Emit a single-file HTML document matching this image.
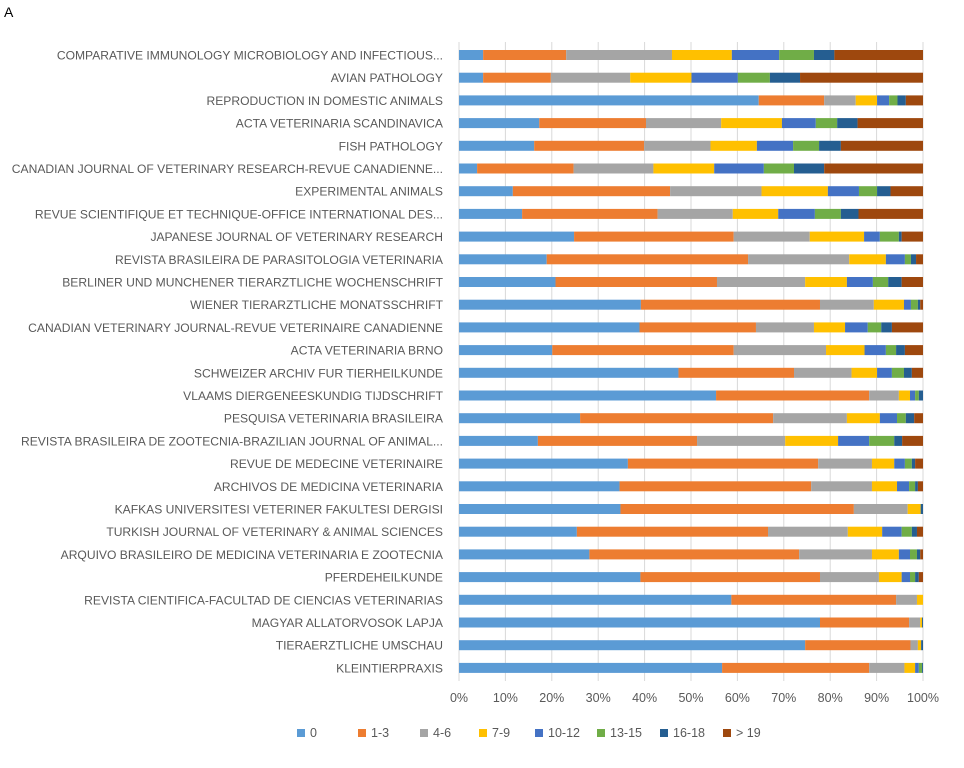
<!DOCTYPE html>
<html><head><meta charset="utf-8"><style>
body{margin:0;background:#fff;width:964px;height:763px;overflow:hidden;font-family:"Liberation Sans",sans-serif}
svg text{font-family:"Liberation Sans",sans-serif}
</style></head><body>
<svg id="c" width="964" height="763" xmlns="http://www.w3.org/2000/svg">
<text x="4" y="17" font-size="14" fill="#000">A</text>
<g id="grid"></g><g id="bars"></g><g id="labels"></g><g id="ticks"></g><g id="legend"></g>
</svg>
<script>
const journals=["COMPARATIVE IMMUNOLOGY MICROBIOLOGY AND INFECTIOUS...","AVIAN PATHOLOGY","REPRODUCTION IN DOMESTIC ANIMALS","ACTA VETERINARIA SCANDINAVICA","FISH PATHOLOGY","CANADIAN JOURNAL OF VETERINARY RESEARCH-REVUE CANADIENNE...","EXPERIMENTAL ANIMALS","REVUE SCIENTIFIQUE ET TECHNIQUE-OFFICE INTERNATIONAL DES...","JAPANESE JOURNAL OF VETERINARY RESEARCH","REVISTA BRASILEIRA DE PARASITOLOGIA VETERINARIA","BERLINER UND MUNCHENER TIERARZTLICHE WOCHENSCHRIFT","WIENER TIERARZTLICHE MONATSSCHRIFT","CANADIAN VETERINARY JOURNAL-REVUE VETERINAIRE CANADIENNE","ACTA VETERINARIA BRNO","SCHWEIZER ARCHIV FUR TIERHEILKUNDE","VLAAMS DIERGENEESKUNDIG TIJDSCHRIFT","PESQUISA VETERINARIA BRASILEIRA","REVISTA BRASILEIRA DE ZOOTECNIA-BRAZILIAN JOURNAL OF ANIMAL...","REVUE DE MEDECINE VETERINAIRE","ARCHIVOS DE MEDICINA VETERINARIA","KAFKAS UNIVERSITESI VETERINER FAKULTESI DERGISI","TURKISH JOURNAL OF VETERINARY & ANIMAL SCIENCES","ARQUIVO BRASILEIRO DE MEDICINA VETERINARIA E ZOOTECNIA","PFERDEHEILKUNDE","REVISTA CIENTIFICA-FACULTAD DE CIENCIAS VETERINARIAS","MAGYAR ALLATORVOSOK LAPJA","TIERAERZTLICHE UMSCHAU","KLEINTIERPRAXIS"];
const seriesNames=["0","1-3","4-6","7-9","10-12","13-15","16-18","> 19"];
const s0=[5.2,5.2,64.6,17.3,16.2,3.9,11.6,13.6,24.8,18.9,20.8,39.2,38.9,20.1,47.3,55.4,26.1,17,36.4,34.6,34.8,25.4,28.1,39.1,58.7,77.8,74.6,56.7];
const s1=[17.9,14.6,14.1,23,23.7,20.8,33.9,29.2,34.4,43.4,34.8,38.6,25.1,39.1,24.9,33,41.6,34.3,41,41.3,50.3,41.2,45.2,38.7,35.5,19.2,22.7,31.7];
const s2=[22.8,17.1,6.8,16.2,14.3,17.2,19.7,16.2,16.4,21.8,19,11.6,12.5,19.9,12.4,6.4,15.9,19,11.6,13.1,11.6,17.2,15.7,12.7,4.5,2.4,1.6,7.6];
const s3=[12.9,13.2,4.6,13.1,10,13.1,14.3,9.8,11.7,7.9,9,6.5,6.7,8.3,5.5,2.4,7.1,11.4,4.8,5.4,2.8,7.4,5.8,4.9,1.3,0.4,0.7,2.3];
const s4=[10.2,10,2.6,7.3,7.8,10.7,6.7,7.9,3.4,4.1,5.6,1.5,4.9,4.6,3.2,1.1,3.7,6.7,2.3,2.6,0,4.2,2.4,1.8,0,0,0,0.8];
const s5=[7.5,6.9,1.8,4.6,5.6,6.5,3.9,5.6,4.1,1.3,3.3,1.5,2.9,2.2,2.6,0.8,1.9,5.4,1.5,1.3,0,2.2,1.5,1.1,0,0,0,0.7];
const s6=[4.4,6.5,1.8,4.4,4.7,6.5,2.9,3.8,0.6,1.1,2.9,0.5,2.3,1.9,1.7,0.9,1.8,1.7,0.7,0.6,0.5,1.1,0.7,0.8,0,0.2,0.4,0.2];
const s7=[19.1,26.5,3.7,14.1,17.7,21.3,7.0,13.9,4.6,1.5,4.6,0.6,6.7,3.9,2.4,0,1.9,4.5,1.7,1.1,0,1.3,0.6,0.9,0,0,0,0];
const ticks=["0%","10%","20%","30%","40%","50%","60%","70%","80%","90%","100%"];
const colors=["#5B9BD5","#ED7D31","#A5A5A5","#FFC000","#4472C4","#70AD47","#255E91","#9E480E"];
const series=[s0,s1,s2,s3,s4,s5,s6,s7];
const NS="http://www.w3.org/2000/svg";
const X0=459,X1=923,Y0=55,DY=22.7,BH=10;
const x=v=>X0+(X1-X0)*v/100;
const y=i=>Y0+i*DY;
function mk(t,a,p){const e=document.createElementNS(NS,t);for(const k in a)e.setAttribute(k,a[k]);p.appendChild(e);return e;}
const g=document.getElementById('grid'),b=document.getElementById('bars'),l=document.getElementById('labels'),tk=document.getElementById('ticks'),lg=document.getElementById('legend');
ticks.forEach((t,i)=>{const v=i*10;
 const ln=mk('line',{x1:x(v),x2:x(v),y1:42,y2:681,stroke:'#d9d9d9','stroke-width':1},g);
 
 
 const tx=mk('text',{x:x(v),y:702,'text-anchor':'middle','font-size':12.5,fill:'#595959'},tk);tx.textContent=t;
 
 
});
journals.forEach((j,i)=>{
 const tx=mk('text',{x:443,y:y(i)+4.5,'text-anchor':'end','font-size':12.1,fill:'#595959'},l);tx.textContent=j;
 
 
 let cum=0;
 series.forEach((s,k)=>{const v=s[i];if(v>0){
  const r=mk('rect',{x:x(cum),y:y(i)-BH/2,width:x(cum+v)-x(cum),height:BH,fill:colors[k]},b);
  
  }
  cum+=v;});
});
const lx=[297,358,420,479,535,597,660,723];
seriesNames.forEach((n,k)=>{
 const r=mk('rect',{x:lx[k],y:729,width:8,height:8,fill:colors[k]},lg);
 
 
 const t=mk('text',{x:lx[k]+13,y:737,'font-size':12.5,fill:'#595959'},lg);t.textContent=n;
 
 
});
</script>
</body></html>
